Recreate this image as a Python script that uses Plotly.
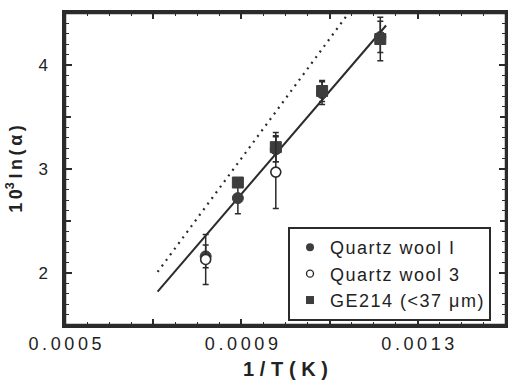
import plotly.graph_objects as go

# Data
qw1_x = [0.000819, 0.000892, 0.000978, 0.001083, 0.001215]
qw1_y = [2.16, 2.72, 3.19, 3.73, 4.27]
qw1_err = [0.11, 0.15, 0.12, 0.11, 0.15]

qw3_x = [0.000819, 0.000978]
qw3_y = [2.13, 2.97]
qw3_err = [0.24, 0.35]

ge_x = [0.000892, 0.000978, 0.001083, 0.001215]
ge_y = [2.87, 3.21, 3.75, 4.25]
ge_err = [0.03, 0.14, 0.10, 0.21]

fit_x = [0.000710, 0.001228]
fit_y = [1.82, 4.38]

dot_x = [0.000710, 0.001138]
dot_y = [2.01, 4.47]

x_label_ticks = [0.0005, 0.0009, 0.0013]
x_mid_ticks = [0.0007, 0.0011, 0.0015]
y_label_ticks = [2, 3, 4]
y_mid_ticks = [1.5, 2.5, 3.5, 4.5]

TS = "\u2009"   # thin space
HS = "\u200a"   # hair space


def spaced(s, sep=TS):
    return sep.join(list(s))


ink = "#2b2b2b"
mark = "#3d3d3d"
font_family = "Liberation Sans, Arial, sans-serif"

fig = go.Figure()

fig.add_trace(go.Scatter(x=dot_x, y=dot_y, mode="lines",
                         line=dict(color=ink, width=2.2, dash="2px,5px"),
                         showlegend=False, hoverinfo="skip"))
fig.add_trace(go.Scatter(x=fit_x, y=fit_y, mode="lines",
                         line=dict(color=ink, width=2),
                         showlegend=False, hoverinfo="skip"))

err_style = dict(type="data", color=ink, thickness=1.5, width=3)

fig.add_trace(go.Scatter(x=qw1_x, y=qw1_y, mode="markers", showlegend=False,
                         marker=dict(symbol="circle", size=11, color=mark,
                                     line=dict(color=mark, width=1)),
                         error_y=dict(array=qw1_err, **err_style)))
fig.add_trace(go.Scatter(x=ge_x, y=ge_y, mode="markers", showlegend=False,
                         marker=dict(symbol="square", size=11, color=mark,
                                     line=dict(color=mark, width=1)),
                         error_y=dict(array=ge_err, **err_style)))
fig.add_trace(go.Scatter(x=qw3_x, y=qw3_y, mode="markers", showlegend=False,
                         marker=dict(symbol="circle", size=10, color="white",
                                     line=dict(color=ink, width=1.6)),
                         error_y=dict(array=qw3_err, **err_style)))

# legend entries (smaller symbols, as in the reference legend)
LS = HS
fig.add_trace(go.Scatter(x=[None], y=[None], mode="markers",
                         name=spaced("Quartz wool I", LS),
                         marker=dict(symbol="circle", size=8, color=mark)))
fig.add_trace(go.Scatter(x=[None], y=[None], mode="markers",
                         name=spaced("Quartz wool 3", LS),
                         marker=dict(symbol="circle", size=7, color="white",
                                     line=dict(color=ink, width=1.4))))
fig.add_trace(go.Scatter(x=[None], y=[None], mode="markers",
                         name=spaced("GE214 (<37 \u03bcm)", LS),
                         marker=dict(symbol="square", size=8, color=mark)))

# invisible trace to carry the overlay axes for the extra major ticks
fig.add_trace(go.Scatter(x=[None], y=[None], xaxis="x2", yaxis="y2",
                         showlegend=False, hoverinfo="skip"))

common = dict(ticks="inside", tickcolor=ink, showline=True, linewidth=2.5,
              linecolor=ink, mirror="allticks", showgrid=False,
              zeroline=False, automargin=False)

ytitle = TS.join(["1", "0<sup>3</sup>", "l", "n", "(", "\u03b1", ")"])

fig.update_layout(
    width=508, height=385,
    margin=dict(l=65, r=2, t=13, b=60),
    paper_bgcolor="white", plot_bgcolor="white",
    font=dict(family=font_family, color="#222", size=16),
    showlegend=True,
    legend=dict(x=0.966, y=0.314, xanchor="right", yanchor="top",
                bgcolor="white", bordercolor=ink, borderwidth=2,
                font=dict(size=18, family=font_family, color="#222"),
                traceorder="normal", tracegroupgap=0),
    xaxis=dict(range=[0.0005, 0.0015], tickmode="array",
               tickvals=x_label_ticks,
               ticktext=[spaced(f"{v:.4f}", TS) for v in x_label_ticks],
               ticklen=6, tickwidth=1.5,
               tickfont=dict(size=18), ticklabelstandoff=1,
               minor=dict(ticks="inside", dtick=0.00005, ticklen=3,
                          tickwidth=1.3, tickcolor=ink, showgrid=False),
               title=dict(text="<b>" + spaced("1/T(K)", TS + HS) + "</b>",
                          font=dict(size=20), standoff=9),
               **common),
    yaxis=dict(range=[1.5, 4.5], tickmode="array",
               tickvals=y_label_ticks, ticktext=[str(v) for v in y_label_ticks],
               ticklen=7, tickwidth=1.5,
               tickfont=dict(size=17), ticklabelstandoff=11,
               minor=dict(ticks="inside", dtick=0.1, ticklen=4,
                          tickwidth=1.3, tickcolor=ink, showgrid=False),
               title=dict(text="<b>" + ytitle + "</b>",
                          font=dict(size=18), standoff=12),
               **common),
    xaxis2=dict(range=[0.0005, 0.0015], overlaying="x", anchor="y2", side="bottom",
                tickmode="array", tickvals=x_mid_ticks, showticklabels=False,
                ticklen=6, tickwidth=1.5, **common),
    yaxis2=dict(range=[1.5, 4.5], overlaying="y", anchor="x2", side="left",
                tickmode="array", tickvals=y_mid_ticks, showticklabels=False,
                ticklen=6, tickwidth=1.5, **common),
)

# full frame around the plotting area
fig.add_shape(type="rect", xref="paper", yref="paper", x0=0, x1=1, y0=0, y1=1,
              line=dict(color=ink, width=2.5), fillcolor="rgba(0,0,0,0)",
              layer="above")

# remove the browser's default 8px page margin so the figure fills the window
fig.write_html("out.html",
               config={"displayModeBar": False},
               post_script="document.body.style.margin='0';"
                           "document.body.style.overflow='hidden';")
